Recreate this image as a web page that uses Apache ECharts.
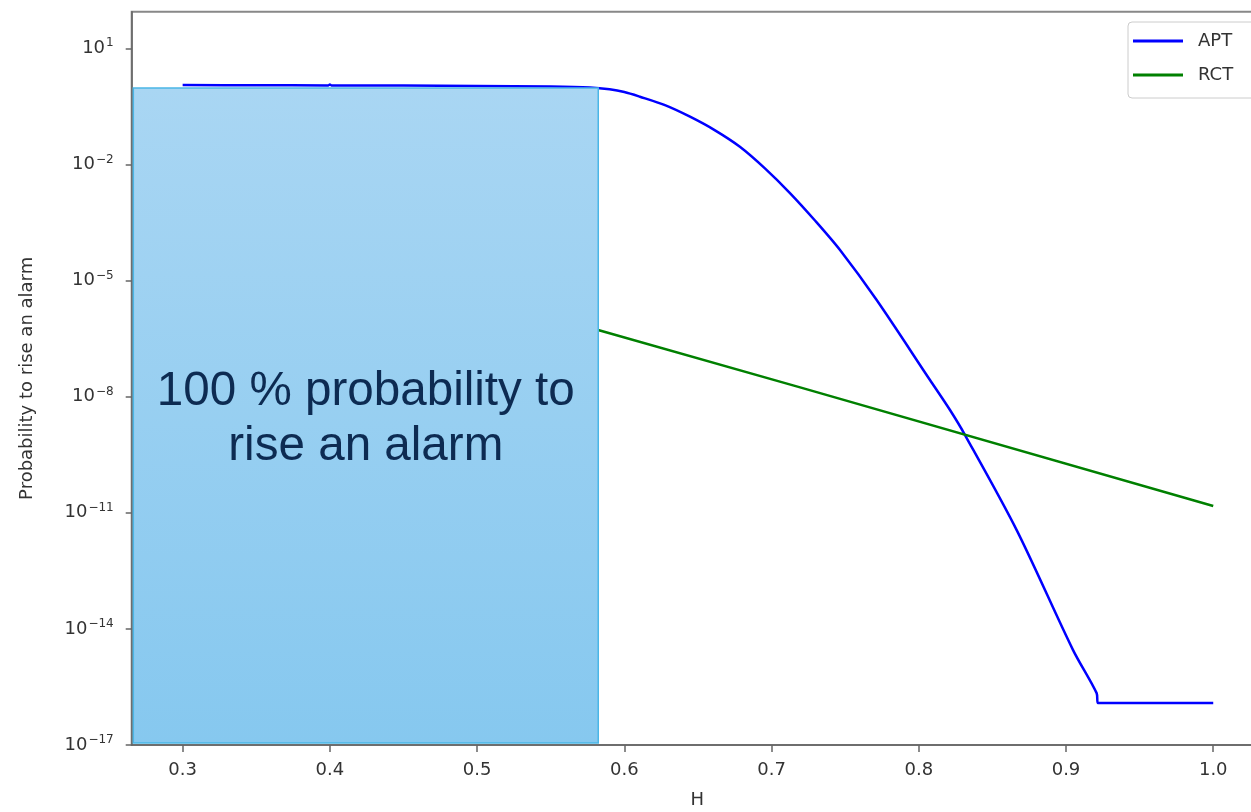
<!DOCTYPE html>
<html>
<head>
<meta charset="utf-8">
<script src="https://cdn.jsdelivr.net/npm/echarts@6/dist/echarts.min.js"></script>
<style>html,body{margin:0;padding:0;background:#fff}#c{width:1251px;height:812px}</style>
</head>
<body>
<div id="c"></div>
<script>
// ---- data ----
const aptX = [0.30, 0.35, 0.399, 0.40, 0.401, 0.45, 0.50, 0.55, 0.5766, 0.59, 0.60, 0.6106, 0.6276, 0.6446, 0.6616, 0.6785, 0.6955, 0.7125, 0.7295, 0.7465, 0.7714, 0.8076, 0.8212, 0.8314, 0.8665, 0.9048, 0.9208, 0.9217, 0.95, 1.00];
const aptY = [1.12, 1.11, 1.1, 1.16, 1.1, 1.09, 1.07, 1.03, 0.97, 0.87, 0.74, 0.56, 0.34, 0.171, 0.076, 0.0286, 0.0079, 0.00182, 0.000355, 6.14e-5, 3.13e-6, 2.69e-8, 4.51e-9, 1.02e-9, 3.57e-12, 2.83e-15, 2.19e-16, 1.21e-16, 1.21e-16, 1.21e-16];
const rctX = [0.30, 0.5822, 0.7194, 1.00];
const rctY = [6.2e-4, 5.26e-7, 1.74e-8, 1.49e-11];
const xTicks = [0.3, 0.4, 0.5, 0.6, 0.7, 0.8, 0.9, 1.0];
const yTicks = [1e-17, 1e-14, 1e-11, 1e-8, 1e-5, 1e-2, 1e1];
const boxRange = [0.2665, 0.5823, 0.94, 1.12e-17]; // x0, x1, yTop, yBottom
const boxText = '100 % probability to\nrise an alarm';

const chart = echarts.init(document.getElementById('c'), null, {renderer: 'canvas'});
const font = '"DejaVu Sans", sans-serif';
const sup = e => String(e).replace('-', '\u2212');

chart.setOption({
  animation: false,
  backgroundColor: '#fff',
  grid: {left: 131.7, right: -12, top: 11.7, bottom: 67, show: true, borderColor: '#888', borderWidth: 2,
    outerBoundsMode: 'none', containLabel: false},
  legend: {
    data: ['APT', 'RCT'], orient: 'vertical', left: 1128, top: 22,
    icon: 'rect', itemWidth: 50, itemHeight: 3, itemGap: 12,
    padding: [8, 40, 12, 5],
    borderColor: '#ccc', borderWidth: 1, borderRadius: 4, backgroundColor: '#fff',
    textStyle: {fontFamily: font, fontSize: 18, color: '#333', padding: [0, 0, 0, 10], lineHeight: 22}
  },
  xAxis: {
    type: 'value', min: 0.2654, max: 1.0338,
    name: 'H', nameLocation: 'middle', nameGap: 46,
    nameTextStyle: {fontFamily: font, fontSize: 18, color: '#333'},
    axisLine: {lineStyle: {color: '#666', width: 1.5}},
    axisTick: {show: true, length: 7, lineStyle: {color: '#666', width: 1.5}, customValues: xTicks},
    axisLabel: {customValues: xTicks, margin: 16, fontFamily: font, fontSize: 18, color: '#333', formatter: v => v.toFixed(1)},
    splitLine: {show: false}
  },
  yAxis: {
    type: 'log', min: 1e-17, max: 88.3,
    name: 'Probability to rise an alarm', nameLocation: 'middle', nameGap: 95, nameRotate: 90,
    nameTextStyle: {fontFamily: font, fontSize: 18, color: '#333'},
    axisLine: {show: true, lineStyle: {color: '#666', width: 1.5}},
    axisTick: {show: true, length: 6, lineStyle: {color: '#666', width: 1.5}, customValues: yTicks},
    axisLabel: {
      customValues: yTicks, margin: 18, fontFamily: font, color: '#333',
      formatter: v => '{b|10}{s|' + sup(Math.round(Math.log10(v))) + '}',
      rich: {
        b: {fontFamily: font, fontSize: 18, color: '#333'},
        s: {fontFamily: font, fontSize: 12, color: '#333', padding: [0, 0, 10, 1]}
      }
    },
    splitLine: {show: false}
  },
  series: [
    {name: 'APT', type: 'line', data: aptX.map((x, i) => [x, aptY[i]]), symbol: 'none', z: 2,
      smooth: 0.3,
      lineStyle: {color: '#0000ff', width: 2.5}, itemStyle: {color: '#0000ff'}},
    {name: 'RCT', type: 'line', data: rctX.map((x, i) => [x, rctY[i]]), symbol: 'none', z: 2,
      lineStyle: {color: '#008000', width: 2.5}, itemStyle: {color: '#008000'}},
    {name: 'box', type: 'custom', z: 5, data: [boxRange],
      encode: {x: [0, 1], y: [2, 3]},
      renderItem: (params, api) => {
        const p0 = api.coord([api.value(0), api.value(2)]);
        const p1 = api.coord([api.value(1), api.value(3)]);
        return {
          type: 'rect',
          shape: {x: p0[0], y: p0[1], width: p1[0] - p0[0], height: p1[1] - p0[1]},
          style: {
            fill: new echarts.graphic.LinearGradient(0, 0, 0, 1, [
              {offset: 0, color: '#a9d6f3'}, {offset: 1, color: '#86c8ef'}]),
            stroke: '#4bb6e6', lineWidth: 1.5
          },
          textContent: {style: {text: boxText, fill: '#0d2b52', fontFamily: '"Liberation Sans", Arial, sans-serif', fontSize: 47.6, lineHeight: 55, align: 'center'}},
          textConfig: {position: 'inside', offset: [0, 4]}
        };
      }
    }
  ]
});
</script>
</body>
</html>
